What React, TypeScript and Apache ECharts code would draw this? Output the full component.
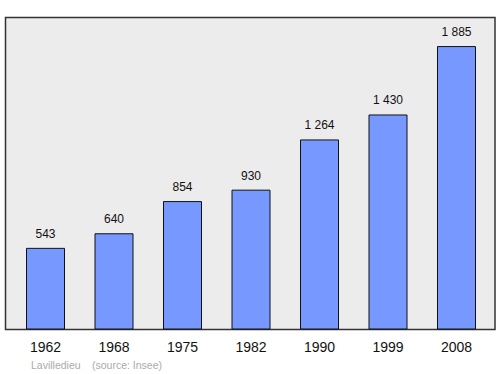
import React, { useEffect, useRef } from "react";
import * as echarts from "echarts";

const years = ["1962", "1968", "1975", "1982", "1990", "1999", "2008"];
const population = [543, 640, 854, 930, 1264, 1430, 1885];
const sourceName = "Lavilledieu";
const sourceNote = "(source: Insee)";

const fmt = (v: number) => {
  const s = String(v);
  return s.length > 3 ? s.slice(0, s.length - 3) + " " + s.slice(-3) : s;
};

export default function App() {
  const ref = useRef<HTMLDivElement>(null);
  useEffect(() => {
    if (!ref.current) return;
    const chart = echarts.init(ref.current, null, { renderer: "svg" });
    chart.setOption({
      animation: false,
      textStyle: { fontFamily: "Liberation Sans, Arial, sans-serif" },
      graphic: [
        {
          type: "rect",
          z: -10,
          silent: true,
          shape: { x: 5.5, y: 17.5, width: 489.5, height: 312 },
          style: { fill: "#ececec", stroke: "#333333", lineWidth: 1.5 },
        },
        {
          type: "text",
          left: 31,
          top: 359.5,
          style: { text: sourceName, fill: "#aaaaaa", fontSize: 10.5, fontFamily: "Liberation Sans, Arial, sans-serif" },
        },
        {
          type: "text",
          left: 92,
          top: 359.5,
          style: { text: sourceNote, fill: "#aaaaaa", fontSize: 10.5, fontFamily: "Liberation Sans, Arial, sans-serif" },
        },
      ],
      grid: { left: 11.25, right: 9.25, top: 17.5, bottom: 44.5 },
      xAxis: {
        type: "category",
        data: years,
        axisLine: { show: false },
        axisTick: { show: false },
        axisLabel: { color: "#111111", fontSize: 14, margin: 10 },
      },
      yAxis: {
        type: "value",
        min: 0,
        max: 2075,
        show: false,
        splitLine: { show: false },
      },
      series: [
        {
          type: "bar",
          data: population,
          barWidth: 39,
          itemStyle: { color: "#7799ff", borderColor: "#111111", borderWidth: 1 },
          label: {
            show: true,
            position: "top",
            distance: 8,
            color: "#111111",
            fontSize: 12,
            formatter: (p: any) => fmt(p.value),
          },
        },
      ],
    });
    return () => chart.dispose();
  }, []);
  return <div ref={ref} style={{ width: 500, height: 374, position: "absolute", left: 0, top: 0 }} />;
}
